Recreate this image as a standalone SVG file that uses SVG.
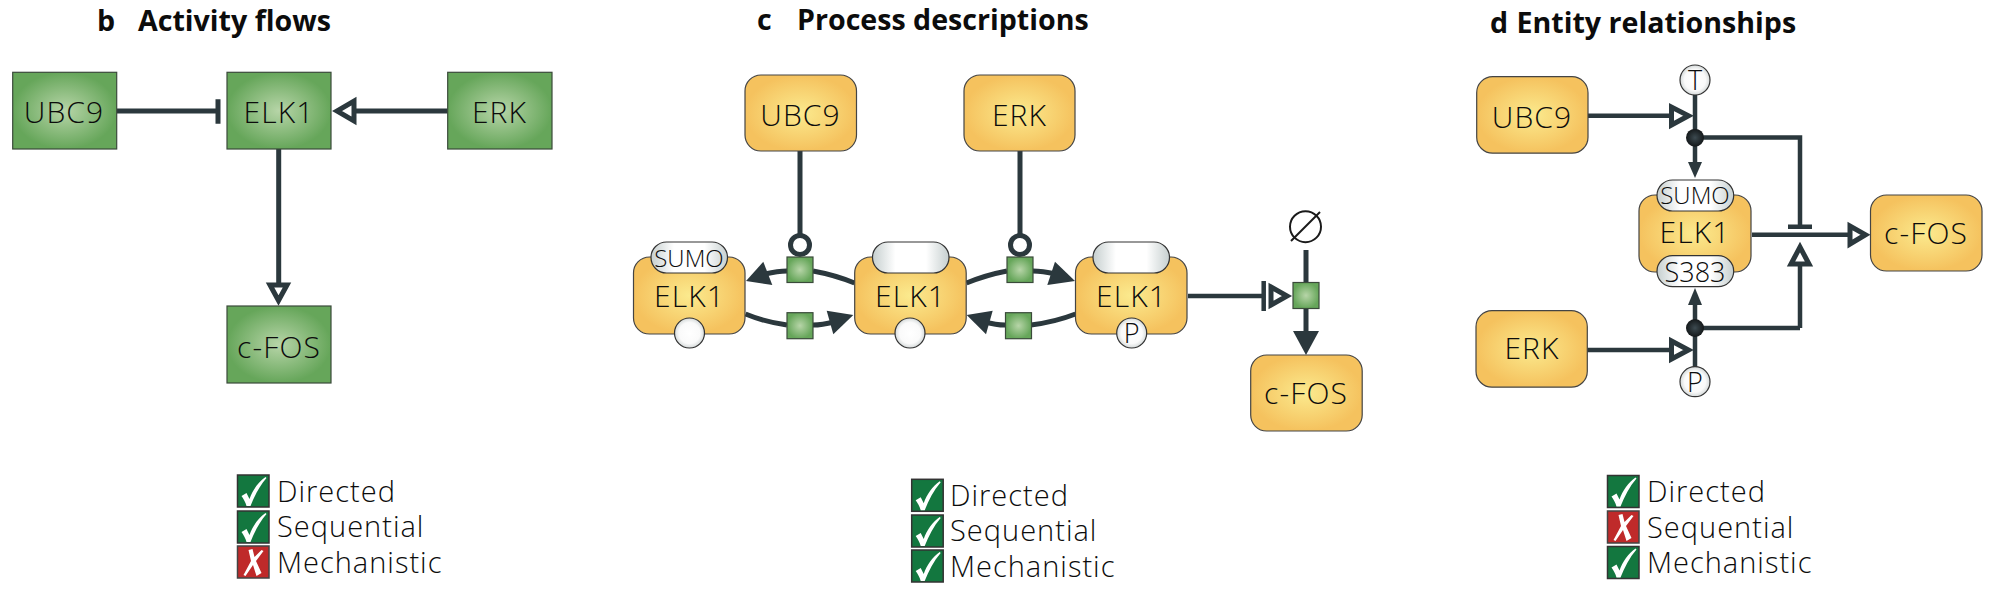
<svg xmlns="http://www.w3.org/2000/svg" width="1994" height="593" viewBox="0 0 1994 593">
<style>
text{font-family:"Open Sans","Noto Sans","Liberation Sans",sans-serif;fill:#0c0c0c}
.t{font-size:30px;font-weight:300;text-anchor:middle;letter-spacing:1.1px}
.s{font-size:24px;font-weight:300;text-anchor:middle}
.r{font-size:27px;font-weight:300;text-anchor:middle}
.l{font-size:29px;font-weight:300;letter-spacing:1px}
.h{font-size:28.6px;font-weight:700}
.g{fill:url(#gr);stroke:#3a4a3a;stroke-width:1.2}
.o{fill:url(#or);stroke:#444;stroke-width:1.2}
.p{fill:url(#pi);stroke:#333;stroke-width:1.2}
.c{fill:url(#ci);stroke:#333;stroke-width:1.2}
.sq{fill:url(#gr);stroke:#3a4a3a;stroke-width:1.2}
.e{fill:none;stroke:#2b383d;stroke-width:5}
.e4{fill:none;stroke:#2b383d;stroke-width:4.5}
.f{fill:#2b383d;stroke:none}
.u{fill:#fff;stroke:#2b383d;stroke-width:5}
.d{fill:url(#bk);stroke:none}
.y{fill:#13773f;stroke:#333;stroke-width:1.5}
.n{fill:#bf2a2a;stroke:#444;stroke-width:1.5}
.m{fill:#fff;stroke:none}
</style>
<defs>
<radialGradient id="gr"><stop offset="0" stop-color="#b7d5a8"/><stop offset="1" stop-color="#66a65a"/></radialGradient>
<radialGradient id="or"><stop offset="0" stop-color="#fbea8e"/><stop offset="1" stop-color="#f5c25e"/></radialGradient>
<linearGradient id="pi"><stop offset="0" stop-color="#c6cfcf"/><stop offset=".3" stop-color="#fff"/><stop offset=".7" stop-color="#fff"/><stop offset="1" stop-color="#c6cfcf"/></linearGradient>
<radialGradient id="ci"><stop offset="0" stop-color="#fff"/><stop offset=".7" stop-color="#fafafa"/><stop offset="1" stop-color="#d5dada"/></radialGradient>
<radialGradient id="bk"><stop offset="0" stop-color="#3c4a50"/><stop offset="1" stop-color="#14181a"/></radialGradient>
<path id="tick" d="M4 21 L9 18 L12 24 C15 15 21 7 28 2 L29 3 C22 11 17 21 13 31 L9 31 C8 27 6 24 4 21Z"/>
<path id="cross" d="M11 4 L15 3 L17 11 L24 4 L26 5 L18.5 15 L24 27 L19 30 L15.5 19 L8 30 L6 29 L13.5 15Z"/>
</defs>

<g id="connectors">
<!-- b -->
<path class="e" d="M116.7 111H216M218 99.3V123.7M447.7 111H354M278.7 149V284"/>
<path class="u" d="M354 101V121L337 111Z"/>
<path class="u" d="M270 285H287L278.5 300.5Z"/>
<!-- c -->
<path class="e" d="M800 151V236M1020 151V236"/>
<circle class="u" cx="800" cy="245" r="9.5"/>
<circle class="u" cx="1020" cy="245" r="9.5"/>
<path class="e" d="M854.5 283Q835 275 813 271M787 271Q778 271 765 274M745.5 314Q765 322 787 325M813 325Q822 325 834 322M966.5 283Q986 275 1007 271M1033 271Q1042 271 1056 274M1075.5 314Q1055 322 1031 325M1005 325Q996 325 985 322"/>
<path class="f" d="M746 281L763.3 261.7L772.3 285Z"/>
<path class="f" d="M853.3 315L826.7 310.7L833.3 334.3Z"/>
<path class="f" d="M1075 281L1055 261.7L1047.3 285Z"/>
<path class="f" d="M966.7 315L992.7 310.7L986 334.3Z"/>
<path class="e4" d="M1188 296H1262M1263.7 281V311" />
<path class="u" d="M1271 287V305L1287 296Z"/>
<path class="e" d="M1306 250V284M1306 308V332" stroke-width="6"/>
<path class="f" d="M1293 331H1319L1306 355Z"/>
<!-- d -->
<path class="e4" d="M1588 115.7H1672M1695 95V165M1695 137.5H1800V226M1788 226.7H1812M1752 234.7H1850M1800 328V266M1695 328H1800M1587 350H1672M1695 367V300"/>
<path class="u" d="M1671.5 107V125L1688.5 115.7Z"/>
<path class="u" d="M1671.5 341V359L1688.5 350Z"/>
<path class="u" d="M1850 226V244L1865.5 234.7Z"/>
<path class="u" d="M1791 264H1809L1800 247Z"/>
<path class="f" d="M1688 162H1702L1695 178Z"/>
<path class="f" d="M1688 305H1702L1695 288Z"/>
<circle class="d" cx="1695" cy="137.7" r="9"/>
<circle class="d" cx="1695" cy="328" r="9"/>
</g>

<g id="panel-b">
<text class="h" x="97" y="30.7">b</text><text class="h" x="138" y="30.7">Activity flows</text>
<g id="b-ubc9"><rect class="g" x="12.7" y="72.3" width="104" height="76.7"/><text class="t" x="64" y="122.7">UBC9</text></g>
<g id="b-elk1"><rect class="g" x="227" y="72.3" width="104" height="76.7"/><text class="t" x="279" y="122.7">ELK1</text></g>
<g id="b-erk"><rect class="g" x="447.7" y="72.3" width="104.3" height="76.7"/><text class="t" x="499.5" y="122.7">ERK</text></g>
<g id="b-cfos"><rect class="g" x="227" y="306" width="104" height="77"/><text class="t" x="279" y="357.7">c-FOS</text></g>
</g>

<g id="panel-c">
<text class="h" x="757" y="30">c</text><text class="h" x="797" y="30">Process descriptions</text>
<g id="c-ubc9"><rect class="o" x="745" y="75" width="111.5" height="76" rx="16"/><text class="t" x="800.5" y="126">UBC9</text></g>
<g id="c-erk"><rect class="o" x="964" y="75" width="111" height="76" rx="16"/><text class="t" x="1019.5" y="126">ERK</text></g>
<g id="c-elk1-a"><rect class="o" x="633.5" y="257" width="111.5" height="77" rx="16"/><rect class="p" x="651" y="242" width="76.5" height="31" rx="15.5"/><text class="s" x="689" y="266.7">SUMO</text><circle class="c" cx="689.5" cy="333" r="15"/><text class="t" x="689.5" y="306.7">ELK1</text></g>
<g id="c-elk1-b"><rect class="o" x="854.7" y="257" width="111.5" height="77" rx="16"/><rect class="p" x="872.5" y="242" width="76.5" height="31" rx="15.5"/><circle class="c" cx="910" cy="333" r="15"/><text class="t" x="910.5" y="306.7">ELK1</text></g>
<g id="c-elk1-c"><rect class="o" x="1075.5" y="257" width="111.5" height="77" rx="16"/><rect class="p" x="1093" y="242" width="76.5" height="31" rx="15.5"/><circle class="c" cx="1131.7" cy="333" r="15"/><text class="r" x="1131.7" y="343">P</text><text class="t" x="1131.5" y="306.7">ELK1</text></g>
<g id="c-pn1"><rect class="sq" x="787" y="257" width="26" height="25.5"/></g>
<g id="c-pn2"><rect class="sq" x="787" y="312.7" width="26" height="26"/></g>
<g id="c-pn3"><rect class="sq" x="1007" y="257" width="26" height="25.5"/></g>
<g id="c-pn4"><rect class="sq" x="1005.5" y="312.7" width="26" height="26"/></g>
<g id="c-pn5"><rect class="sq" x="1293" y="282.5" width="26" height="26"/></g>
<g id="c-empty"><circle cx="1305.5" cy="226.7" r="15.5" fill="#fff" stroke="#1a1a1a" stroke-width="2"/><path d="M1291 241L1320 212" stroke="#1a1a1a" stroke-width="2"/></g>
<g id="c-cfos"><rect class="o" x="1250.7" y="355" width="111.5" height="76" rx="16"/><text class="t" x="1306" y="404">c-FOS</text></g>
</g>

<g id="panel-d">
<text class="h" x="1490" y="32.5">d</text><text class="h" x="1516.5" y="32.5">Entity relationships</text>
<g id="d-ubc9"><rect class="o" x="1476.7" y="76.7" width="111.3" height="76.5" rx="16"/><text class="t" x="1532" y="127.7">UBC9</text></g>
<g id="d-erk"><rect class="o" x="1476" y="310.7" width="111.3" height="76.5" rx="16"/><text class="t" x="1532" y="359">ERK</text></g>
<g id="d-elk1"><rect class="o" x="1639" y="195" width="112" height="77" rx="16"/><text class="t" x="1695" y="242.7">ELK1</text><rect class="p" x="1657" y="180" width="76.7" height="31" rx="15.5"/><text class="s" x="1695" y="204">SUMO</text><rect class="p" x="1657" y="255.7" width="76.7" height="31" rx="15.5"/><text class="r" x="1695" y="281.5">S383</text></g>
<g id="d-t"><circle class="c" cx="1695" cy="80" r="15"/><text class="r" x="1695" y="90">T</text></g>
<g id="d-p"><circle class="c" cx="1695" cy="381.7" r="15"/><text class="r" x="1695" y="391.5">P</text></g>
<g id="d-cfos"><rect class="o" x="1870.5" y="195" width="111.5" height="76" rx="16"/><text class="t" x="1926" y="244.3">c-FOS</text></g>
</g>

<g id="legend-b">
<rect class="y" x="237.5" y="475" width="31.5" height="32"/><use class="m" href="#tick" x="237.5" y="475"/>
<rect class="y" x="237.5" y="511" width="31.5" height="32"/><use class="m" href="#tick" x="237.5" y="511"/>
<rect class="n" x="237.5" y="546" width="31.5" height="32"/><use class="m" href="#cross" x="237.5" y="546"/>
<text class="l" x="277" y="501.7">Directed</text><text class="l" x="277" y="537">Sequential</text><text class="l" x="277" y="572.7">Mechanistic</text>
</g>
<g id="legend-c">
<rect class="y" x="911.7" y="479.3" width="31.5" height="32"/><use class="m" href="#tick" x="911.7" y="479.3"/>
<rect class="y" x="911.7" y="515" width="31.5" height="32"/><use class="m" href="#tick" x="911.7" y="515"/>
<rect class="y" x="911.7" y="550" width="31.5" height="32"/><use class="m" href="#tick" x="911.7" y="550"/>
<text class="l" x="950" y="505.7">Directed</text><text class="l" x="950" y="541">Sequential</text><text class="l" x="950" y="577">Mechanistic</text>
</g>
<g id="legend-d">
<rect class="y" x="1607.5" y="475.5" width="31.5" height="32"/><use class="m" href="#tick" x="1607.5" y="475.5"/>
<rect class="n" x="1607.5" y="511" width="31.5" height="32"/><use class="m" href="#cross" x="1607.5" y="511"/>
<rect class="y" x="1607.5" y="546.5" width="31.5" height="32"/><use class="m" href="#tick" x="1607.5" y="546.5"/>
<text class="l" x="1647" y="502">Directed</text><text class="l" x="1647" y="538">Sequential</text><text class="l" x="1647" y="573">Mechanistic</text>
</g>
</svg>
